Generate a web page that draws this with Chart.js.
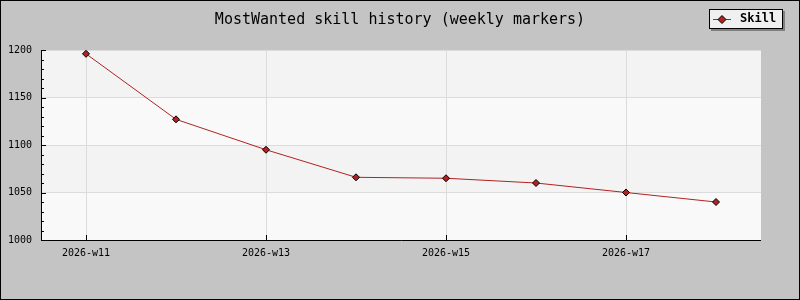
<!DOCTYPE html>
<html>
<head>
<meta charset="utf-8">
<script src="https://cdn.jsdelivr.net/npm/chart.js@4/dist/chart.umd.min.js"></script>
<style>
  html, body { margin: 0; padding: 0; background: #c4c4c4; }
  #wrap { width: 800px; height: 300px; }
</style>
</head>
<body>
<div id="wrap"><canvas id="c" width="800" height="300"></canvas></div>
<script>
const chartTitle = "MostWanted skill history (weekly markers)";
const seriesName = "Skill";
const weeks = ["2026-w11", "2026-w12", "2026-w13", "2026-w14", "2026-w15", "2026-w16", "2026-w17", "2026-w18"];
const skill = [1196, 1127, 1095, 1066, 1065, 1060, 1050, 1040];
const yTicks = [1000, 1050, 1100, 1150, 1200];

const MONO = '"DejaVu Sans Mono", "Liberation Mono", monospace';
const LINE = '#b22222';

const decor = {
  id: 'decor',
  beforeDraw(chart) {
    const ctx = chart.ctx;
    const a = chart.chartArea;
    const y = chart.scales.y;
    ctx.save();
    ctx.fillStyle = '#c4c4c4';
    ctx.fillRect(0, 0, chart.width, chart.height);
    for (let i = 0; i < yTicks.length - 1; i++) {
      const top = y.getPixelForValue(yTicks[i + 1]);
      const bot = y.getPixelForValue(yTicks[i]);
      ctx.fillStyle = (i % 2 === 0) ? '#f9f9f9' : '#f3f3f3';
      ctx.fillRect(a.left, top, a.right - a.left, bot - top);
    }
    ctx.restore();
  },
  afterDatasetsDraw(chart) {
    const ctx = chart.ctx;
    const a = chart.chartArea;
    const y = chart.scales.y;
    const x = chart.scales.x;
    ctx.save();
    ctx.strokeStyle = '#000';
    ctx.lineWidth = 1;
    ctx.beginPath();
    for (let v = yTicks[0]; v <= yTicks[yTicks.length - 1]; v += 10) {
      const py = Math.round(y.getPixelForValue(v)) + 0.5;
      const len = (v % 50 === 0) ? 5 : 3;
      ctx.moveTo(a.left, py);
      ctx.lineTo(a.left + len, py);
    }
    for (let i = 0; i < weeks.length; i += 2) {
      const px = Math.round(x.getPixelForValue(i)) + 0.5;
      ctx.moveTo(px, a.bottom);
      ctx.lineTo(px, a.bottom - 5);
    }
    ctx.stroke();
    ctx.beginPath();
    ctx.moveTo(Math.round(a.left) + 0.5, a.top);
    ctx.lineTo(Math.round(a.left) + 0.5, Math.round(a.bottom) + 0.5);
    ctx.lineTo(a.right, Math.round(a.bottom) + 0.5);
    ctx.stroke();
    ctx.restore();
  },
  afterDraw(chart) {
    const ctx = chart.ctx;
    ctx.save();
    ctx.strokeStyle = '#000';
    ctx.lineWidth = 1;
    ctx.strokeRect(0.5, 0.5, chart.width - 1, chart.height - 1);
    ctx.fillStyle = '#000';
    ctx.font = '15px ' + MONO;
    ctx.textAlign = 'center';
    ctx.textBaseline = 'middle';
    ctx.fillText(chartTitle, 400, 20);
    const lx = 709, ly = 9, lw = 74, lh = 20;
    ctx.fillStyle = '#808080';
    ctx.fillRect(lx + 2, ly + 2, lw, lh);
    ctx.fillStyle = '#f0f0f0';
    ctx.fillRect(lx, ly, lw, lh);
    ctx.strokeStyle = '#000';
    ctx.strokeRect(lx + 0.5, ly + 0.5, lw - 1, lh - 1);
    ctx.strokeStyle = LINE;
    ctx.beginPath();
    ctx.moveTo(713, 19.5);
    ctx.lineTo(731, 19.5);
    ctx.stroke();
    ctx.fillStyle = LINE;
    ctx.strokeStyle = '#000';
    ctx.beginPath();
    ctx.moveTo(722, 15.5);
    ctx.lineTo(726, 19.5);
    ctx.lineTo(722, 23.5);
    ctx.lineTo(718, 19.5);
    ctx.closePath();
    ctx.fill();
    ctx.stroke();
    ctx.fillStyle = '#000';
    ctx.font = 'bold 12px ' + MONO;
    ctx.textAlign = 'left';
    ctx.textBaseline = 'middle';
    ctx.fillText(seriesName, 740, 19);
    ctx.restore();
  }
};

new Chart(document.getElementById('c'), {
  type: 'line',
  data: {
    labels: weeks,
    datasets: [{
      label: seriesName,
      data: skill,
      borderColor: LINE,
      borderWidth: 1,
      backgroundColor: LINE,
      pointStyle: 'rectRot',
      pointRadius: 3.5,
      pointBorderColor: '#000',
      pointBorderWidth: 1,
      pointBackgroundColor: LINE,
      tension: 0,
      fill: false
    }]
  },
  options: {
    responsive: false,
    animation: false,
    devicePixelRatio: 1,
    layout: { padding: { left: 0, right: 39, top: 50, bottom: 0 } },
    plugins: {
      legend: { display: false },
      title: { display: false },
      tooltip: { enabled: false }
    },
    scales: {
      x: {
        type: 'category',
        offset: true,
        afterFit(s) { s.height = 60; },
        grid: {
          offset: false,
          drawTicks: false,
          color: (c) => (c.index % 2 === 0 ? '#dcdcdc' : 'rgba(0,0,0,0)'),
          lineWidth: 1
        },
        border: { display: false },
        ticks: {
          autoSkip: false,
          maxRotation: 0,
          padding: 7,
          color: '#000',
          font: { family: MONO, size: 10 },
          callback: function (v, i) { return i % 2 === 0 ? weeks[i] : ''; }
        }
      },
      y: {
        min: yTicks[0],
        max: yTicks[yTicks.length - 1],
        afterFit(s) { s.width = 41; },
        afterBuildTicks(s) { s.ticks = yTicks.map(v => ({ value: v })); },
        grid: { drawTicks: false, color: '#dcdcdc', lineWidth: 1 },
        border: { display: false },
        ticks: {
          padding: 9,
          color: '#000',
          font: { family: MONO, size: 10 },
          callback: (v) => String(v)
        }
      }
    }
  },
  plugins: [decor]
});
</script>
</body>
</html>
